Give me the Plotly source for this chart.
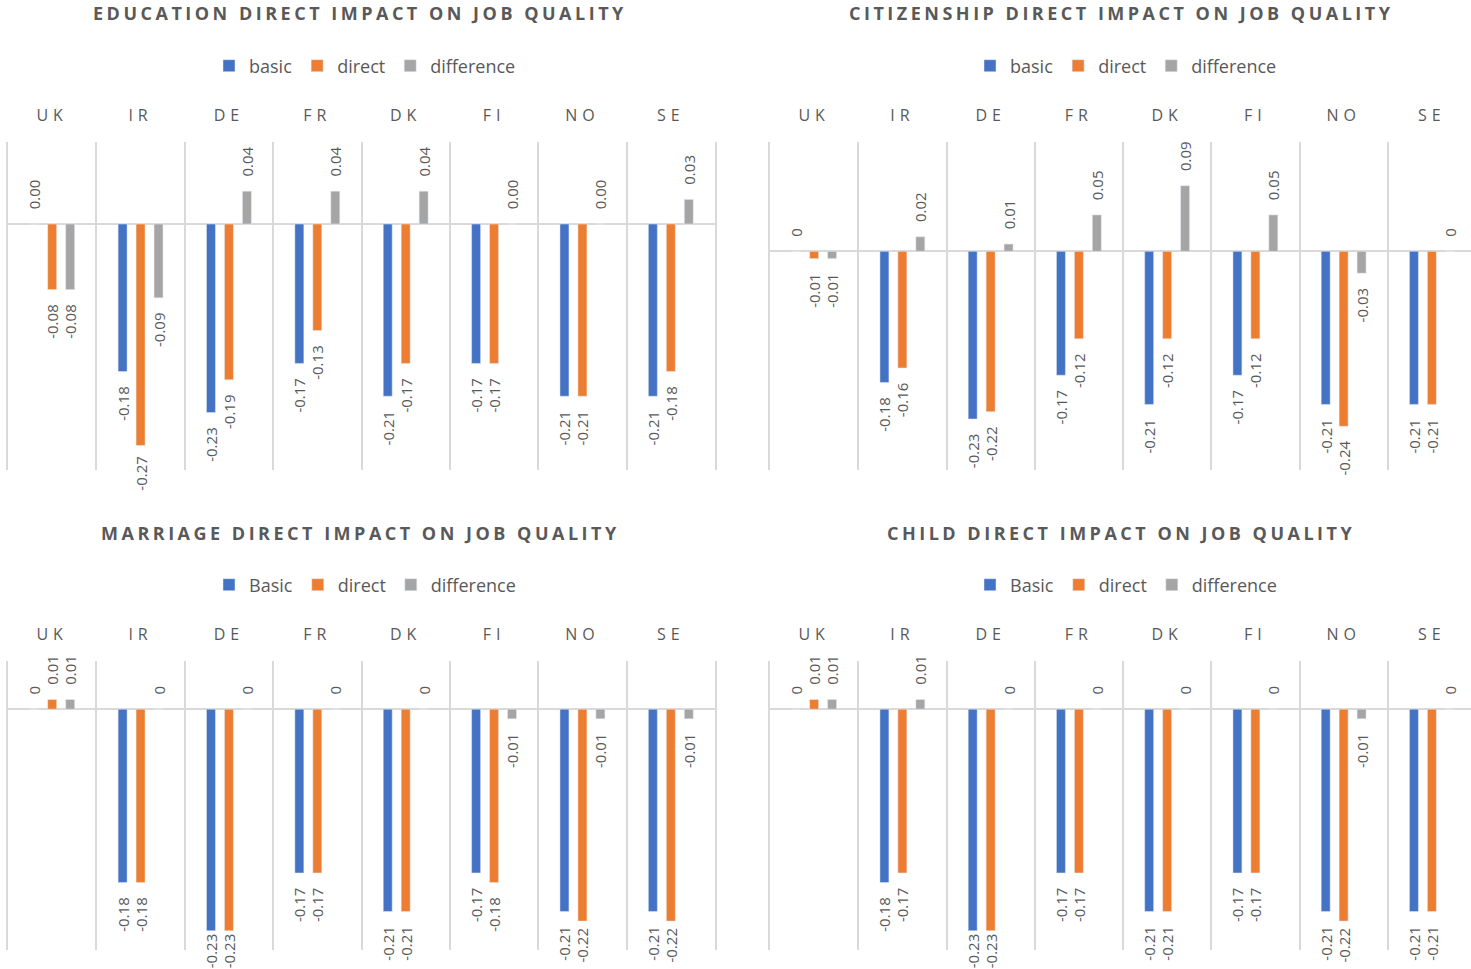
import math
import plotly.graph_objects as go
from plotly.subplots import make_subplots

# Countries shown on every panel
countries = ["UK", "IR", "DE", "FR", "DK", "FI", "NO", "SE"]

# Education panel
edu_basic = [0.00, -0.18, -0.23, -0.17, -0.21, -0.17, -0.21, -0.21]
edu_direct = [-0.08, -0.27, -0.19, -0.13, -0.17, -0.17, -0.21, -0.18]
edu_diff = [-0.08, -0.09, 0.04, 0.04, 0.04, 0.00, 0.00, 0.03]

# Citizenship panel
cit_basic = [0, -0.18, -0.23, -0.17, -0.21, -0.17, -0.21, -0.21]
cit_direct = [-0.01, -0.16, -0.22, -0.12, -0.12, -0.12, -0.24, -0.21]
cit_diff = [-0.01, 0.02, 0.01, 0.05, 0.09, 0.05, -0.03, 0]

# Marriage panel
mar_basic = [0, -0.18, -0.23, -0.17, -0.21, -0.17, -0.21, -0.21]
mar_direct = [0.01, -0.18, -0.23, -0.17, -0.21, -0.18, -0.22, -0.22]
mar_diff = [0.01, 0, 0, 0, 0, -0.01, -0.01, -0.01]

# Child panel
chi_basic = [0, -0.18, -0.23, -0.17, -0.21, -0.17, -0.21, -0.21]
chi_direct = [0.01, -0.17, -0.23, -0.17, -0.21, -0.17, -0.22, -0.21]
chi_diff = [0.01, 0.01, 0, 0, 0, 0, -0.01, 0]

BLUE, ORANGE, GREY = "#4472C4", "#ED7D31", "#A5A5A5"
TXT = "#595959"
GRID = "#D9D9D9"
FONT = "Open Sans"

W, H = 1471, 969
LABEL_SIZE = 15
NBSP = "\u00a0"
NBSP_W = 0.26 * LABEL_SIZE          # approx. width of one no-break space
CHAR_W = {"-": 0.32, ".": 0.27}     # em widths; digits ~0.572em


def fmt_fixed(v):
    return f"{v:.2f}"


def fmt_general(v):
    return f"{v:g}"


def text_width(s):
    return sum(CHAR_W.get(c, 0.572) for c in s) * LABEL_SIZE


panels = [
    dict(title="EDUCATION DIRECT IMPACT ON JOB QUALITY",
         series=[("basic", edu_basic, BLUE), ("direct", edu_direct, ORANGE),
                 ("difference", edu_diff, GREY)],
         fmt=fmt_fixed, yrange=[-0.3, 0.1]),
    dict(title="CITIZENSHIP DIRECT IMPACT ON JOB QUALITY",
         series=[("basic", cit_basic, BLUE), ("direct", cit_direct, ORANGE),
                 ("difference", cit_diff, GREY)],
         fmt=fmt_general, yrange=[-0.3, 0.15]),
    dict(title="MARRIAGE DIRECT IMPACT ON JOB QUALITY",
         series=[("Basic", mar_basic, BLUE), ("direct", mar_direct, ORANGE),
                 ("difference", mar_diff, GREY)],
         fmt=fmt_general, yrange=[-0.25, 0.05]),
    dict(title="CHILD DIRECT IMPACT ON JOB QUALITY",
         series=[("Basic", chi_basic, BLUE), ("direct", chi_direct, ORANGE),
                 ("difference", chi_diff, GREY)],
         fmt=fmt_general, yrange=[-0.25, 0.05]),
]

# pixel boxes of the plot areas: (left, right, top, bottom); the right-hand
# charts run slightly past the page edge, so their last boundary is hidden
boxes = [(8, 715, 142, 470), (770, 1476, 142, 470),
         (8, 715, 661, 950), (770, 1476, 661, 950)]
# lowest pixel row a value label may reach in each chart
label_floor = [492, 480, 966, 966]
title_pos = [(360, 13), (1121, 13), (360, 533), (1121, 533)]
legend_pos = [(365, 66), (1126, 66), (365, 585), (1126, 585)]


def make_label(v, fmt, i, yrange):
    """Value label padded away from the bar end, but kept inside the chart."""
    s = fmt(v)
    if v >= 0:
        return NBSP * 3 + s
    l, r, t, b = boxes[i]
    ppu = (b - t) / (yrange[1] - yrange[0])
    bar_end = t + (yrange[1] - v) * ppu
    room = label_floor[i] - bar_end - 3 - text_width(s)
    n = max(0, min(3, math.floor(room / NBSP_W)))
    return s + NBSP * n


fig = make_subplots(rows=2, cols=2)

spaced = [f"<span style='letter-spacing:5px'>{c}</span>" for c in countries]

layout_upd = {}
for i, p in enumerate(panels):
    row, col = i // 2 + 1, i % 2 + 1
    leg = "legend" if i == 0 else f"legend{i + 1}"
    for name, vals, color in p["series"]:
        fig.add_trace(
            go.Bar(
                x=countries, y=vals, name=name, marker_color=color,
                text=[make_label(v, p["fmt"], i, p["yrange"]) for v in vals],
                textposition="outside", textangle=-90,
                constraintext="none", cliponaxis=False,
                textfont=dict(size=LABEL_SIZE, color=TXT, family=FONT),
                legend=leg,
            ),
            row=row, col=col,
        )
    l, r, t, b = boxes[i]
    # keep the category width when the chart is cut by the page edge
    cat_w = (r - l) / 8
    r_vis = min(r, W)
    x_hi = -0.5 + (r_vis - l) / cat_w
    clipped = r > W
    sfx = "" if i == 0 else str(i + 1)
    layout_upd[f"xaxis{sfx}"] = dict(
        domain=[l / W, r_vis / W], type="category", side="top",
        tickson="boundaries", showgrid=True, gridcolor=GRID, gridwidth=2,
        ticks="", showline=False, zeroline=False, range=[-0.5, x_hi],
        tickvals=countries, ticktext=spaced, ticklabelstandoff=17,
        tickfont=dict(size=16, color=TXT, family=FONT),
    )
    layout_upd[f"yaxis{sfx}"] = dict(
        domain=[1 - b / H, 1 - t / H], range=p["yrange"],
        showticklabels=False, showgrid=False, zeroline=True,
        zerolinecolor=GRID, zerolinewidth=2,
        showline=True, mirror=not clipped, linecolor=GRID, linewidth=2,
    )
    lx, ly = legend_pos[i]
    layout_upd[leg] = dict(
        orientation="h", x=lx / W, xanchor="center", y=1 - ly / H,
        yanchor="middle", font=dict(size=18, color=TXT, family=FONT),
        bgcolor="rgba(0,0,0,0)", itemclick=False, traceorder="normal",
        itemwidth=30,
    )

fig.update_layout(**layout_upd)

for i, p in enumerate(panels):
    tx, ty = title_pos[i]
    fig.add_annotation(
        text=f"<span style='letter-spacing:3.5px'><b>{p['title']}</b></span>",
        x=tx / W, y=1 - ty / H, xref="paper", yref="paper",
        xanchor="center", yanchor="middle", showarrow=False,
        font=dict(size=18, color=TXT, family=FONT),
    )

fig.update_layout(
    width=W, height=H, margin=dict(l=0, r=0, t=0, b=0),
    paper_bgcolor="white", plot_bgcolor="white",
    barmode="group", bargap=0.39, bargroupgap=0.5,
    font=dict(family=FONT, color=TXT),
)

fig.write_html("out.html")
